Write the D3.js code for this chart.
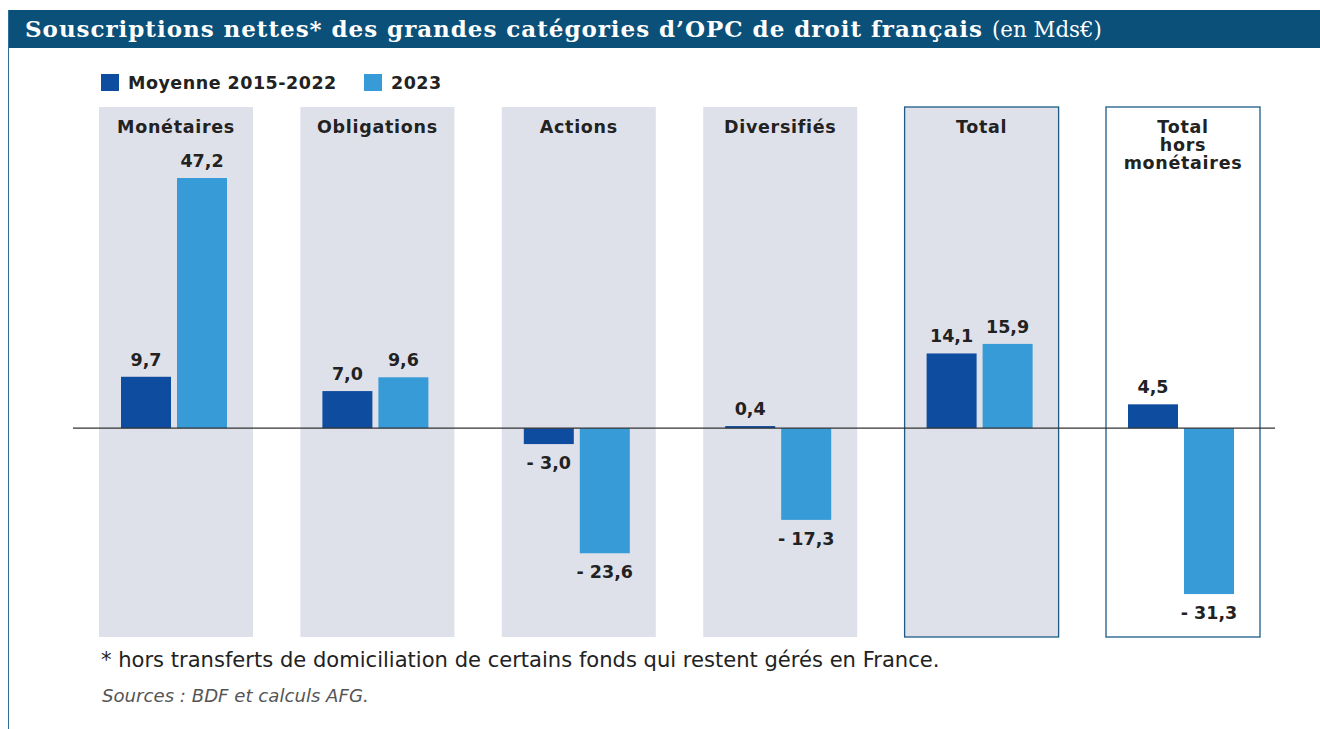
<!DOCTYPE html>
<html>
<head>
<meta charset="utf-8">
<script src="https://cdn.jsdelivr.net/npm/d3@7"></script>
<style>
  body { margin: 0; background: #fff; }
  svg { display: block; }
</style>
</head>
<body>
<script>
// chart values (Mds€)
var categories = ["Monétaires", "Obligations", "Actions", "Diversifiés", "Total", "Total hors monétaires"];
var catLines = [["Monétaires"], ["Obligations"], ["Actions"], ["Diversifiés"], ["Total"], ["Total", "hors", "monétaires"]];
var seriesNames = ["Moyenne 2015-2022", "2023"];
var moyenne = [9.7, 7.0, -3.0, 0.4, 14.1, 4.5];
var annee2023 = [47.2, 9.6, -23.6, -17.3, 15.9, -31.3];

var width = 1320,
    height = 729,
    darkBlue = "#0d4c9f",
    lightBlue = "#369bd6",
    panelFill = "#dfe1ea",
    frameBlue = "#1b5b85",
    fontSans = "'DejaVu Sans', Verdana, sans-serif";

var svg = d3.select("body").append("svg")
    .attr("width", width)
    .attr("height", height);

// stretch a text to the width it has in the original layout
function fitWidth(sel, target) {
    var node = sel.node();
    var len = node.getComputedTextLength();
    var n = node.textContent.length;
    if (n > 1) sel.style("letter-spacing", ((target - len) / n) + "px");
}
// same thing but by changing the font size
function fitSize(sel, target) {
    var len = sel.node().getComputedTextLength();
    var size = parseFloat(sel.style("font-size"));
    sel.style("font-size", (size * target / len) + "px");
}

// title bar
svg.append("rect")
    .attr("x", 8).attr("y", 10)
    .attr("width", width - 8).attr("height", 38)
    .attr("fill", "#0a5078");
svg.append("line")
    .attr("x1", 8.5).attr("x2", 8.5)
    .attr("y1", 10).attr("y2", height)
    .attr("stroke", "#2f6f98").attr("stroke-width", 1);

var title = svg.append("text")
    .attr("x", 25).attr("y", 37)
    .attr("fill", "#fff")
    .style("font-family", "'DejaVu Serif', serif")
    .style("font-weight", "bold")
    .style("font-size", "23px")
    .text("Souscriptions nettes* des grandes catégories d’OPC de droit français");
fitWidth(title, 958);
var unit = svg.append("text")
    .attr("x", 992).attr("y", 37)
    .attr("fill", "#fff")
    .style("font-family", "'DejaVu Serif', serif")
    .style("font-size", "16px")
    .text("(en Mds€)");
fitSize(unit, 110);

// scales
var x = d3.scaleBand()
    .domain(categories)
    .range([99, 1260])
    .paddingInner(47.4 / 201.4);

var xs = d3.scaleBand()
    .domain(seriesNames)
    .range([22, 128])
    .paddingInner(6 / 56);

var y = d3.scaleLinear()
    .domain([-39.4, 60.6])
    .range([637, 107]);

// panels
svg.selectAll(".panel")
    .data(categories)
    .enter().append("rect")
    .attr("class", "panel")
    .attr("x", function(d) { return x(d); })
    .attr("y", y(60.6))
    .attr("width", x.bandwidth())
    .attr("height", y(-39.4) - y(60.6))
    .attr("fill", function(d, i) { return i == 5 ? "#fff" : panelFill; })
    .attr("stroke", function(d, i) { return i >= 4 ? frameBlue : "none"; })
    .attr("stroke-width", 1.3);

// category labels
svg.selectAll(".cat")
    .data(categories)
    .enter().append("text")
    .attr("class", "cat")
    .attr("text-anchor", "middle")
    .attr("fill", "#222")
    .style("font-family", fontSans)
    .style("font-weight", "bold")
    .style("font-size", "17.5px")
    .style("letter-spacing", "0.7px")
    .each(function(d, i) {
        var t = d3.select(this);
        catLines[i].forEach(function(line, j) {
            t.append("tspan")
                .attr("x", x(d) + x.bandwidth() / 2)
                .attr("y", 133 + j * 18)
                .text(line);
        });
    });

// bars
var rows = [];
categories.forEach(function(c, i) {
    rows.push({cat: c, serie: seriesNames[0], value: moyenne[i], color: darkBlue});
    rows.push({cat: c, serie: seriesNames[1], value: annee2023[i], color: lightBlue});
});

svg.selectAll(".bar")
    .data(rows)
    .enter().append("rect")
    .attr("class", "bar")
    .attr("x", function(d) { return x(d.cat) + xs(d.serie); })
    .attr("y", function(d) { return y(Math.max(0, d.value)); })
    .attr("width", xs.bandwidth())
    .attr("height", function(d) { return Math.abs(y(d.value) - y(0)); })
    .attr("fill", function(d) { return d.color; });

// zero line
svg.append("line")
    .attr("x1", 73).attr("x2", 1275)
    .attr("y1", y(0)).attr("y2", y(0))
    .attr("stroke", "#333").attr("stroke-width", 1.2);

// value labels
function fmt(v) {
    var s = Math.abs(v).toFixed(1).replace(".", ",");
    return v < 0 ? "- " + s : s;
}

svg.selectAll(".val")
    .data(rows)
    .enter().append("text")
    .attr("class", "val")
    .attr("text-anchor", "middle")
    .attr("x", function(d) { return x(d.cat) + xs(d.serie) + xs.bandwidth() / 2; })
    .attr("y", function(d) { return d.value >= 0 ? y(d.value) - 11 : y(d.value) + 25; })
    .attr("fill", "#222")
    .style("font-family", fontSans)
    .style("font-weight", "bold")
    .style("font-size", "17.5px")
    .text(function(d) { return fmt(d.value); });

// legend
var legend = svg.selectAll(".legend")
    .data(seriesNames)
    .enter().append("g")
    .attr("class", "legend")
    .attr("transform", function(d, i) { return "translate(" + [101, 364][i] + ",74)"; });
legend.append("rect")
    .attr("width", 18).attr("height", 17)
    .attr("fill", function(d, i) { return i == 0 ? darkBlue : lightBlue; });
legend.append("text")
    .attr("x", 27).attr("y", 15)
    .attr("fill", "#222")
    .style("font-family", fontSans)
    .style("font-weight", "bold")
    .style("font-size", "17.5px")
    .style("letter-spacing", "0.5px")
    .text(function(d) { return d; });

// notes
var note = svg.append("text")
    .attr("x", 101).attr("y", 667)
    .attr("fill", "#222")
    .style("font-family", fontSans)
    .style("font-size", "17px")
    .text("* hors transferts de domiciliation de certains fonds qui restent gérés en France.");
fitSize(note, 839);
var sources = svg.append("text")
    .attr("x", 102).attr("y", 702)
    .attr("fill", "#555")
    .style("font-family", fontSans)
    .style("font-style", "italic")
    .style("font-size", "15px")
    .text("Sources : BDF et calculs AFG.");
fitSize(sources, 267);
</script>
</body>
</html>
